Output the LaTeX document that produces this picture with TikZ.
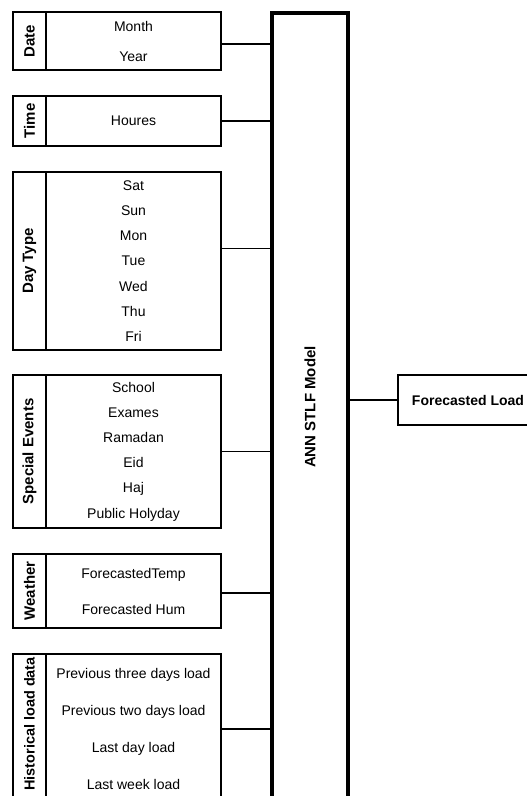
\documentclass[tikz,border=0pt]{standalone}
\usepackage{fontspec}
\setmainfont{Liberation Sans}
\usetikzlibrary{positioning}
\tikzstyle{groupname} = [
    rectangle,
    minimum width=33pt,
    inner sep=0pt,
    outer sep=0pt,
    line width=1.3pt,
    font=\fontsize{15}{18}\selectfont\bfseries,
    draw=black
]
\tikzstyle{inputlist} = [
    rectangle,
    minimum width=175pt,
    inner sep=0pt,
    outer sep=0pt,
    align=center,
    line width=1.3pt,
    font=\fontsize{14}{25.2}\selectfont,
    draw=black
]
\tikzstyle{model} = [
    rectangle,
    minimum width=76pt,
    minimum height=788pt,
    inner sep=0pt,
    outer sep=0pt,
    line width=3.5pt,
    font=\fontsize{15}{18}\selectfont\bfseries,
    draw=black
]
\tikzstyle{result} = [
    rectangle,
    minimum width=140pt,
    minimum height=50pt,
    inner sep=0pt,
    outer sep=0pt,
    line width=1.3pt,
    font=\fontsize{14}{17}\selectfont\bfseries,
    draw=black
]
\tikzstyle{link} = [line width=1.3pt]

\begin{document}
\begin{tikzpicture}[x=1pt, y=-1pt, node distance=26pt]
\useasboundingbox (0,0) rectangle (527,796);
\clip (0,0) rectangle (527,796);

\node (datename) [groupname, minimum height=58pt] at (29.5,41) {\rotatebox{90}{Date}};
\node (date) [inputlist, minimum height=58pt, right=0pt of datename,
    font=\fontsize{14}{30}\selectfont] {Month\\Year};

\node (timename) [groupname, minimum height=50pt, below=of datename] {\rotatebox{90}{Time}};
\node (time) [inputlist, minimum height=50pt, right=0pt of timename] {Houres};

\node (dayname) [groupname, minimum height=178pt, below=of timename] {\rotatebox{90}{Day Type}};
\node (day) [inputlist, minimum height=178pt, right=0pt of dayname]
{Sat\\Sun\\Mon\\Tue\\Wed\\Thu\\Fri};

\node (eventname) [groupname, minimum height=153pt, below=25pt of dayname] {\rotatebox{90}{Special Events}};
\node (event) [inputlist, minimum height=153pt, right=0pt of eventname]
{School\\Exames\\Ramadan\\Eid\\Haj\\Public Holyday};

\node (weathername) [groupname, minimum height=74pt, below=of eventname] {\rotatebox{90}{Weather}};
\node (weather) [inputlist, minimum height=74pt, right=0pt of weathername,
    font=\fontsize{14}{36}\selectfont] {ForecastedTemp\\Forecasted Hum};

\node (histname) [groupname, minimum height=150pt, below=of weathername,
    font=\fontsize{14.5}{18}\selectfont\bfseries]
{\rotatebox{90}{\hspace*{10pt}Historical load data}};
\node (hist) [inputlist, minimum height=150pt, right=0pt of histname,
    font=\fontsize{14}{37}\selectfont]
{Previous three days load\\Previous two days load\\Last day load\\Last week load};

\node (ann) [model] at (310,407) {\rotatebox{90}{ANN STLF Model}};

\node (load) [result] at (468,400) {Forecasted Load};

\draw [link] ([yshift=-3pt]date.east) -- ([yshift=-3pt]date.east -| ann.west);
\draw [link] (time.east) -- (time.east -| ann.west);
\draw [link] ([yshift=12.5pt]day.east) -- ([yshift=12.5pt]day.east -| ann.west);
\draw [link] (event.east) -- (event.east -| ann.west);
\draw [link] ([yshift=-2pt]weather.east) -- ([yshift=-2pt]weather.east -| ann.west);
\draw [link] (hist.east) -- (hist.east -| ann.west);
\draw [link] (load.west -| ann.east) -- (load.west);

\end{tikzpicture}
\end{document}
